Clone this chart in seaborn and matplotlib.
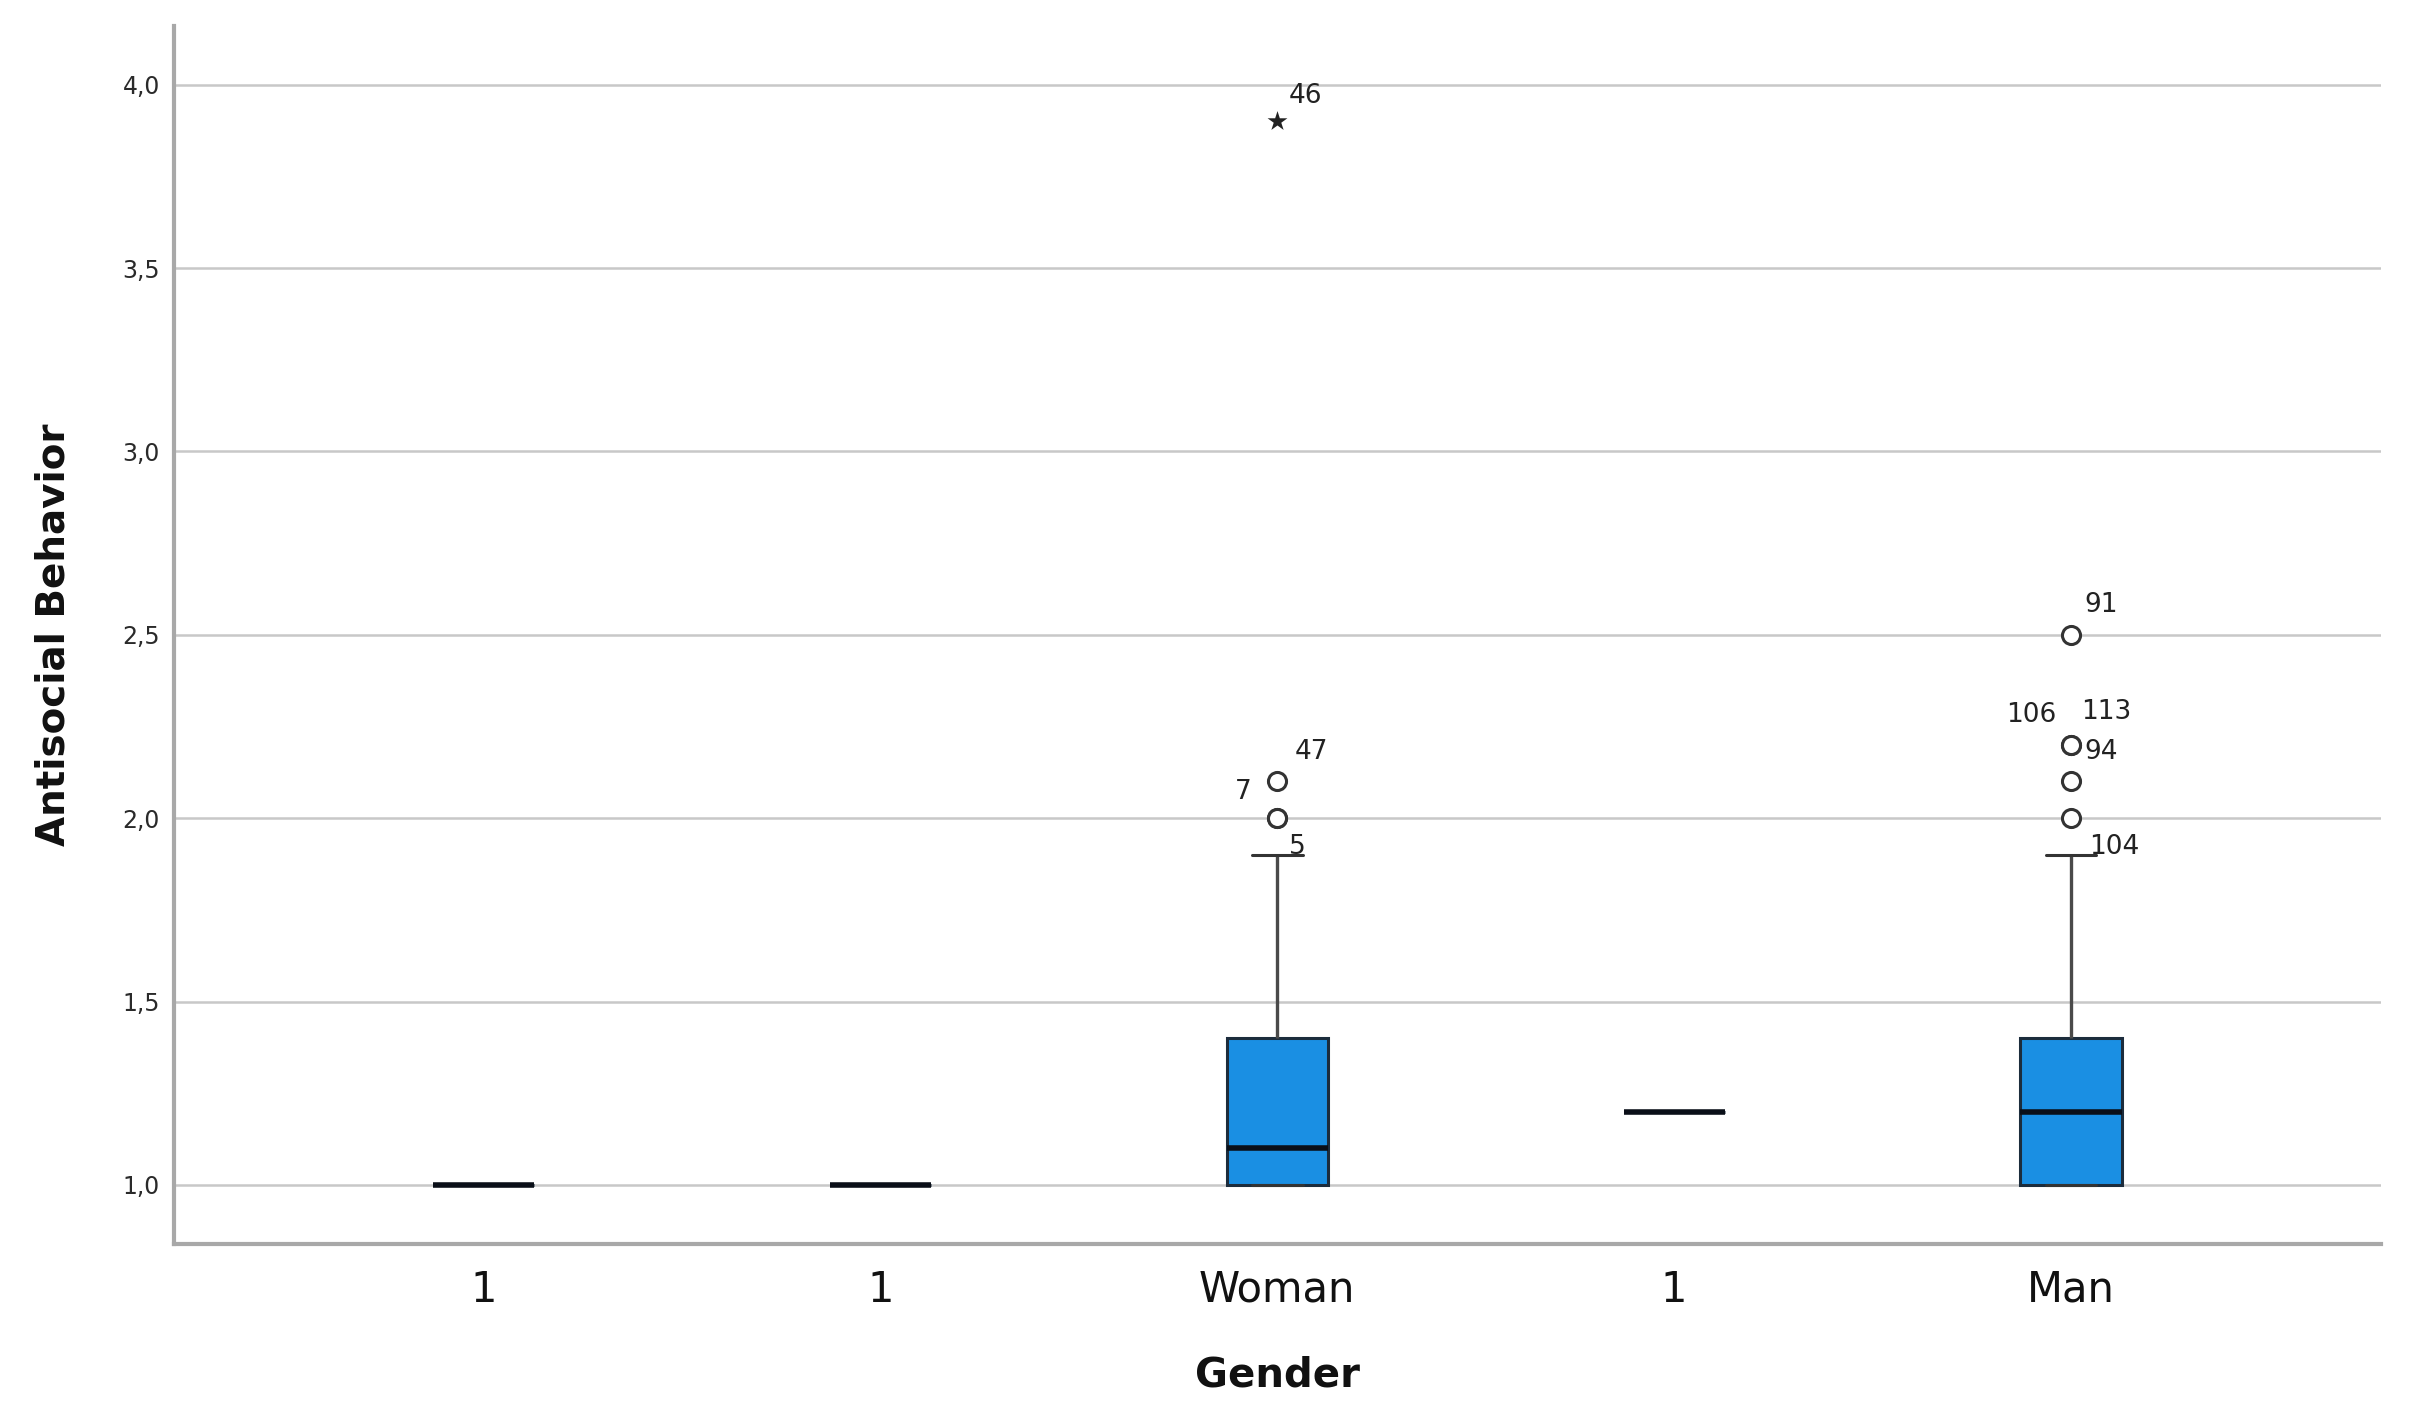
import numpy as np
import pandas as pd
import matplotlib as mpl
import matplotlib.pyplot as plt
import seaborn as sns

sns.set_style("white")
mpl.rc('font', family='DejaVu Sans')

# categories (SPSS value labels, three of them show up as "1")
groups = ["g1", "g2", "Woman", "g4", "Man"]
group_labels = ["1", "1", "Woman", "1", "Man"]

# raw scores per group (quartiles, whiskers, outliers)
g1_values = [1.0, 1.0, 1.0, 1.0, 1.0]
g2_values = [1.0, 1.0, 1.0, 1.0, 1.0]
g4_values = [1.2, 1.2, 1.2, 1.2, 1.2]
woman_values = [1.0] * 8 + [1.1] * 5 + [1.2, 1.3] + [1.4] * 4 + [1.7, 1.9]
man_values = [1.0] * 8 + [1.1] * 3 + [1.2] * 4 + [1.3] * 2 + [1.4] * 5 + [1.6, 1.9]

woman_outliers = [2.0, 2.0, 2.1]
woman_extremes = [3.9]
man_outliers = [2.0, 2.1, 2.2, 2.2, 2.5]
man_extremes = []

# case numbers printed next to the outliers: (group, x offset, y, label)
case_labels = [
    ("Woman", 0.085, 2.18, "47"),
    ("Woman", -0.085, 2.07, "7"),
    ("Woman", 0.05, 1.92, "5"),
    ("Woman", 0.07, 3.97, "46"),
    ("Man", 0.075, 2.58, "91"),
    ("Man", -0.10, 2.28, "106"),
    ("Man", 0.09, 2.29, "113"),
    ("Man", 0.075, 2.18, "94"),
    ("Man", 0.11, 1.92, "104"),
]

y_ticks = [1.0, 1.5, 2.0, 2.5, 3.0, 3.5, 4.0]
y_tick_labels = ["1,0", "1,5", "2,0", "2,5", "3,0", "3,5", "4,0"]

rows = []
for g, vals in zip(groups, [g1_values, g2_values,
                            woman_values + woman_outliers + woman_extremes,
                            g4_values,
                            man_values + man_outliers + man_extremes]):
    rows += [(g, v) for v in vals]
df = pd.DataFrame(rows, columns=["group", "value"])

out_df = pd.DataFrame([("Woman", v) for v in woman_outliers] +
                      [("Man", v) for v in man_outliers],
                      columns=["group", "value"])
ext_df = pd.DataFrame([("Woman", v) for v in woman_extremes] +
                      [("Man", v) for v in man_extremes],
                      columns=["group", "value"])

fig = plt.figure(figsize=(24.09, 14.22), dpi=100)
ax = fig.add_axes([0.0722, 0.1255, 0.916, 0.8562])

sns.boxplot(data=df, x="group", y="value", order=groups, ax=ax,
            width=0.255, whis=1.3, saturation=1, color="#1a8fe3",
            showfliers=False, linewidth=2.2,
            boxprops=dict(edgecolor="#1c2c3c"),
            medianprops=dict(color="#0a0f18", linewidth=4),
            whiskerprops=dict(color="#4a4a4a", linewidth=2.4),
            capprops=dict(color="#333333", linewidth=2.2))

sns.stripplot(data=out_df, x="group", y="value", order=groups, ax=ax,
              jitter=False, marker="o", size=13, color="white",
              edgecolor="#333333", linewidth=2.2, zorder=5)
sns.stripplot(data=ext_df, x="group", y="value", order=groups, ax=ax,
              jitter=False, marker="*", size=15, color="#222222",
              linewidth=0, zorder=5)

for g, dx, y, txt in case_labels:
    ax.text(groups.index(g) + dx, y, txt, ha="center", va="center",
            fontsize=19, color="#222222")

ax.set_xlim(-0.78, 4.78)
ax.set_ylim(0.84, 4.16)
ax.set_yticks(y_ticks)
ax.set_yticklabels(y_tick_labels, fontsize=17, color="#2a2a2a")
ax.set_xticks(range(len(groups)))
ax.set_xticklabels(group_labels, fontsize=30, color="#111111")
ax.tick_params(axis="both", length=0)
ax.tick_params(axis="y", pad=10)
ax.tick_params(axis="x", pad=18)

ax.yaxis.grid(True, color="#c8c8c8", linewidth=1.8)
ax.set_axisbelow(True)
for s in ["top", "right"]:
    ax.spines[s].set_visible(False)
for s in ["left", "bottom"]:
    ax.spines[s].set_color("#a8a8a8")
    ax.spines[s].set_linewidth(3)

ax.set_xlabel("Gender", fontsize=29, fontweight="bold", color="#111111")
ax.set_ylabel("Antisocial Behavior", fontsize=28, fontweight="bold", color="#111111")
ax.xaxis.set_label_coords(0.5, -0.092)
ax.yaxis.set_label_coords(-0.046, 0.5)

fig.savefig("out.png", dpi=100)
